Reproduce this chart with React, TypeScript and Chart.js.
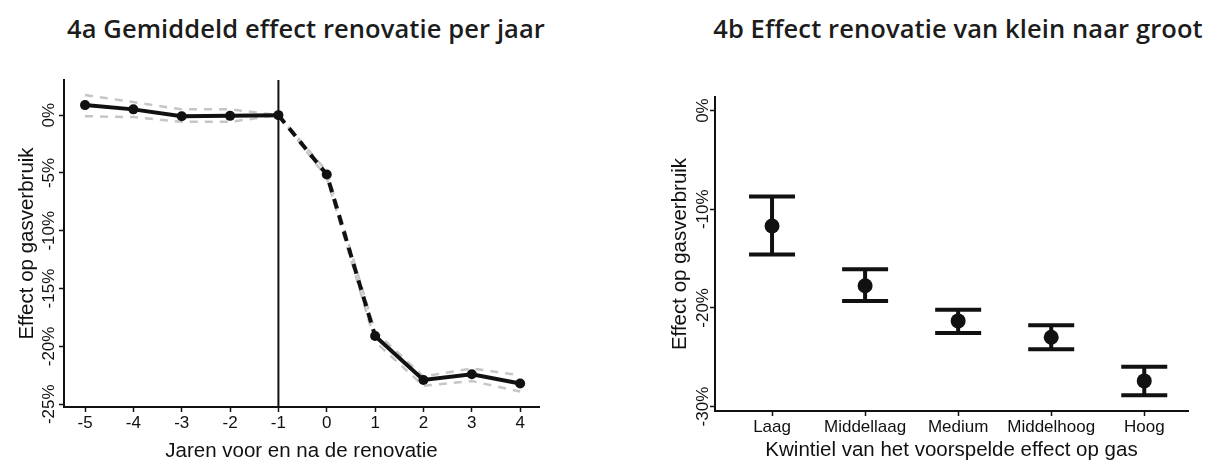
import React, { useEffect, useRef } from 'react';
import { Chart, registerables } from 'chart.js';

Chart.register(...registerables);

// ---------- 4a data ----------
const years = [-5, -4, -3, -2, -1, 0, 1, 2, 3, 4];
const yearEffect = [0.87, 0.5, -0.09, -0.06, 0, -5.13, -19.1, -22.9, -22.4, -23.2];
const yearUpper = [1.74, 1.13, 0.5, 0.5, 0, -4.85, -18.7, -22.6, -21.9, -22.5];
const yearLower = [-0.09, -0.17, -0.58, -0.58, 0, -5.4, -19.6, -23.4, -23.0, -23.9];
const referenceYear = -1;
const yTicksA = [0, -5, -10, -15, -20, -25];

// ---------- 4b data ----------
const quintiles = ['Laag', 'Middellaag', 'Medium', 'Middelhoog', 'Hoog'];
const quintEffect = [-11.7, -17.76, -21.32, -22.98, -27.4];
const quintUpper = [-8.72, -16.09, -20.19, -21.77, -25.96];
const quintLower = [-14.58, -19.29, -22.54, -24.2, -28.85];
const yTicksB = [0, -10, -20, -30];

const TXT = '#111111';
const AX_FONT = '"Liberation Sans", Arial, sans-serif';

function rotatedYLabels(values: number[], x: number) {
  return {
    id: 'rotYLabels',
    afterDraw(chart: any) {
      const ctx = chart.ctx;
      const ys = chart.scales.y;
      ctx.save();
      ctx.font = `17px ${AX_FONT}`;
      ctx.fillStyle = TXT;
      ctx.textAlign = 'center';
      ctx.textBaseline = 'middle';
      values.forEach((v) => {
        const py = ys.getPixelForValue(v);
        ctx.save();
        ctx.translate(x, py);
        ctx.rotate(-Math.PI / 2);
        ctx.fillText(`${v}%`, 0, 0);
        ctx.restore();
      });
      ctx.restore();
    },
  };
}

const refLinePlugin = {
  id: 'refLine',
  beforeDatasetsDraw(chart: any) {
    const { ctx, chartArea } = chart;
    const px = chart.scales.x.getPixelForValue(referenceYear);
    ctx.save();
    ctx.strokeStyle = TXT;
    ctx.lineWidth = 2;
    ctx.beginPath();
    ctx.moveTo(px, chartArea.top);
    ctx.lineTo(px, chartArea.bottom);
    ctx.stroke();
    ctx.restore();
  },
};

function axisCommon() {
  return {
    border: { display: true, color: TXT, width: 2 },
    grid: {
      display: true,
      drawOnChartArea: false,
      drawTicks: true,
      tickLength: 5,
      tickColor: TXT,
      tickWidth: 1.5,
    },
  };
}

function ChartA() {
  const ref = useRef<HTMLCanvasElement>(null);
  useEffect(() => {
    const ctx = ref.current!;
    const toXY = (arr: number[]) => years.map((x, i) => ({ x, y: arr[i] }));
    const ciStyle = {
      borderColor: '#c6c6c6',
      borderWidth: 2.5,
      borderDash: [8, 7],
      pointRadius: 0,
      showLine: true,
      fill: false,
    };
    const chart = new Chart(ctx, {
      type: 'scatter',
      data: {
        datasets: [
          {
            label: 'Effect',
            data: toXY(yearEffect),
            showLine: true,
            borderColor: TXT,
            borderWidth: 4,
            pointRadius: 5,
            pointBackgroundColor: TXT,
            pointBorderWidth: 0,
            segment: {
              borderDash: (c: any) =>
                c.p0.parsed.x >= referenceYear && c.p1.parsed.x <= 1 ? [10, 7] : undefined,
            },
          } as any,
          { label: 'Boven', data: toXY(yearUpper), ...ciStyle } as any,
          { label: 'Onder', data: toXY(yearLower), ...ciStyle } as any,
        ],
      },
      options: {
        animation: false,
        responsive: false,
        events: [],
        layout: { padding: { top: 10, right: 61, left: 0, bottom: 0 } },
        plugins: { legend: { display: false }, tooltip: { enabled: false } },
        scales: {
          x: {
            type: 'linear',
            min: -5.435,
            max: 4.39,
            ...axisCommon(),
            afterBuildTicks: (s: any) => {
              s.ticks = years.map((v) => ({ value: v }));
            },
            afterFit: (s: any) => {
              s.height = 58;
            },
            ticks: {
              color: TXT,
              font: { family: AX_FONT, size: 17 },
              padding: 1,
              maxRotation: 0,
              callback: (v: any) => String(v),
            },
            title: {
              display: true,
              text: 'Jaren voor en na de renovatie',
              color: TXT,
              font: { family: AX_FONT, size: 20.5 },
              padding: { top: 0, bottom: 1 },
            },
          } as any,
          y: {
            type: 'linear',
            min: -25.24,
            max: 3.04,
            ...axisCommon(),
            afterBuildTicks: (s: any) => {
              s.ticks = yTicksA.map((v) => ({ value: v }));
            },
            afterFit: (s: any) => {
              s.width = 64;
            },
            ticks: { display: false },
            title: {
              display: true,
              text: 'Effect op gasverbruik',
              color: TXT,
              font: { family: AX_FONT, size: 20.5 },
              padding: { top: 15, bottom: 0 },
            },
          } as any,
        },
      },
      plugins: [refLinePlugin, rotatedYLabels(yTicksA, 49)],
    });
    return () => chart.destroy();
  }, []);
  return <canvas ref={ref} width={600} height={395} />;
}

function ChartB() {
  const ref = useRef<HTMLCanvasElement>(null);
  useEffect(() => {
    const ctx = ref.current!;
    const xs = quintiles.map((_, i) => i + 1);
    const whiskers: any[] = [];
    xs.forEach((x, i) => {
      whiskers.push({ x, y: quintUpper[i] });
      whiskers.push({ x, y: quintLower[i] });
      whiskers.push({ x, y: null });
    });
    const capStyle = {
      pointStyle: 'line',
      pointRadius: 23,
      pointBorderWidth: 4,
      pointBorderColor: TXT,
      pointBackgroundColor: TXT,
      showLine: false,
    };
    const chart = new Chart(ctx, {
      type: 'scatter',
      data: {
        datasets: [
          {
            label: 'Effect',
            data: xs.map((x, i) => ({ x, y: quintEffect[i] })),
            pointRadius: 7.5,
            pointBackgroundColor: TXT,
            pointBorderWidth: 0,
            showLine: false,
          } as any,
          { label: 'Boven', data: xs.map((x, i) => ({ x, y: quintUpper[i] })), ...capStyle } as any,
          { label: 'Onder', data: xs.map((x, i) => ({ x, y: quintLower[i] })), ...capStyle } as any,
          {
            label: 'Interval',
            data: whiskers,
            showLine: true,
            spanGaps: false,
            borderColor: TXT,
            borderWidth: 4,
            pointRadius: 0,
          } as any,
        ],
      },
      options: {
        animation: false,
        responsive: false,
        events: [],
        layout: { padding: { top: 10, right: 27, left: 0, bottom: 0 } },
        plugins: { legend: { display: false }, tooltip: { enabled: false } },
        scales: {
          x: {
            type: 'linear',
            min: 0.387,
            max: 5.47,
            ...axisCommon(),
            afterBuildTicks: (s: any) => {
              s.ticks = xs.map((v) => ({ value: v }));
            },
            afterFit: (s: any) => {
              s.height = 54;
            },
            ticks: {
              color: TXT,
              font: { family: AX_FONT, size: 17 },
              padding: 1,
              maxRotation: 0,
              autoSkip: false,
              callback: (v: any) => quintiles[Math.round(v) - 1] ?? '',
            },
            title: {
              display: true,
              text: 'Kwintiel van het voorspelde effect op gas',
              color: TXT,
              font: { family: AX_FONT, size: 20.5 },
              padding: { top: 0, bottom: 2 },
            },
          } as any,
          y: {
            type: 'linear',
            min: -30.45,
            max: 1.375,
            ...axisCommon(),
            afterBuildTicks: (s: any) => {
              s.ticks = yTicksB.map((v) => ({ value: v }));
            },
            afterFit: (s: any) => {
              s.width = 115;
            },
            ticks: { display: false },
            title: {
              display: true,
              text: 'Effect op gasverbruik',
              color: TXT,
              font: { family: AX_FONT, size: 20.5 },
              padding: { top: 68, bottom: 0 },
            },
          } as any,
        },
      },
      plugins: [rotatedYLabels(yTicksB, 103)],
    });
    return () => chart.destroy();
  }, []);
  return <canvas ref={ref} width={615} height={395} />;
}

const titleStyle: React.CSSProperties = {
  position: 'absolute',
  top: 13,
  width: 600,
  textAlign: 'center',
  fontFamily: '"Open Sans", "Noto Sans", sans-serif',
  fontWeight: 600,
  fontSize: 25.5,
  lineHeight: '30px',
  color: '#1c1c1c',
  whiteSpace: 'nowrap',
  letterSpacing: '0.1px',
};

export default function App() {
  return (
    <div
      style={{
        position: 'absolute',
        left: 0,
        top: 0,
        width: 1215,
        height: 465,
        background: '#ffffff',
        overflow: 'hidden',
      }}
    >
      <div style={{ ...titleStyle, left: 306 - 300 }}>4a Gemiddeld effect renovatie per jaar</div>
      <div style={{ ...titleStyle, left: 958 - 300 }}>4b Effect renovatie van klein naar groot</div>
      <div style={{ position: 'absolute', left: 0, top: 70 }}>
        <ChartA />
      </div>
      <div style={{ position: 'absolute', left: 600, top: 70 }}>
        <ChartB />
      </div>
    </div>
  );
}
